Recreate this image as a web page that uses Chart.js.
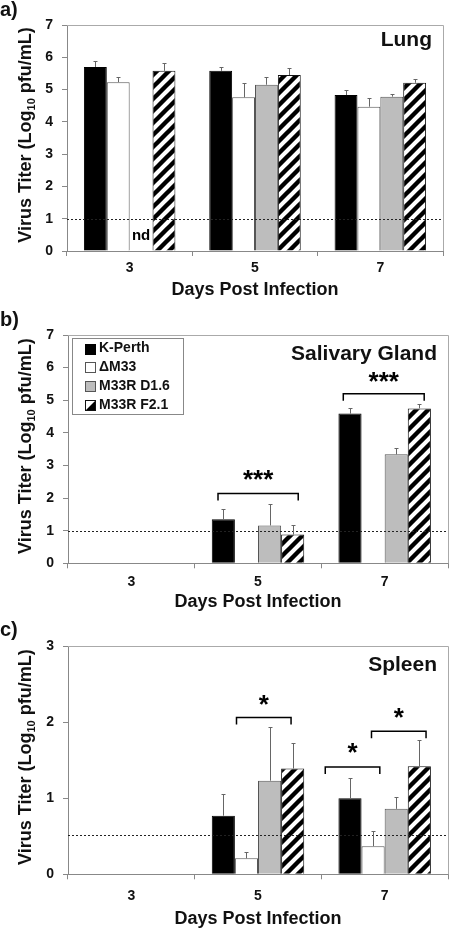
<!DOCTYPE html>
<html>
<head>
<meta charset="utf-8">
<script src="https://cdn.jsdelivr.net/npm/chart.js@4/dist/chart.umd.min.js"></script>
<style>
body { margin: 0; background: #fff; }
canvas { display: block; }
</style>
</head>
<body>
<canvas id="lung" width="450" height="310"></canvas>
<canvas id="sg" width="450" height="310"></canvas>
<canvas id="spleen" width="450" height="310"></canvas>
<script>
// days post infection
var days = ['3', '5', '7'];
var seriesNames = ['K-Perth', '\u0394M33', 'M33R D1.6', 'M33R F2.1'];

// a) lung (log10 pfu/mL), error = upper SD
var lungKPerth = [5.70, 5.58, 4.83];
var lungKPerthErr = [0.17, 0.13, 0.15];
var lungDM33 = [5.23, 4.76, 4.47];
var lungDM33Err = [0.16, 0.43, 0.26];
var lungD16 = [null, 5.15, 4.78];
var lungD16Err = [0, 0.25, 0.08];
var lungF21 = [5.58, 5.45, 5.21];
var lungF21Err = [0.23, 0.21, 0.11];
var lungLimit = 1;
var lungTicks = [0, 1, 2, 3, 4, 5, 6, 7];

// b) salivary gland
var sgKPerth = [null, 1.35, 4.59];
var sgKPerthErr = [0, 0.31, 0.16];
var sgDM33 = [null, null, null];
var sgDM33Err = [0, 0, 0];
var sgD16 = [null, 1.16, 3.34];
var sgD16Err = [0, 0.66, 0.21];
var sgF21 = [null, 0.88, 4.75];
var sgF21Err = [0, 0.29, 0.13];
var sgLimit = 1;
var sgTicks = [0, 1, 2, 3, 4, 5, 6, 7];

// c) spleen
var spKPerth = [null, 0.77, 1.00];
var spKPerthErr = [0, 0.28, 0.26];
var spDM33 = [null, 0.21, 0.37];
var spDM33Err = [0, 0.08, 0.20];
var spD16 = [null, 1.23, 0.86];
var spD16Err = [0, 0.70, 0.15];
var spF21 = [null, 1.39, 1.42];
var spF21Err = [0, 0.34, 0.34];
var spLimit = 0.52;
var spTicks = [0, 1, 2, 3];

// significance brackets: day index, bar slots spanned, height, stars
var sgSignif = [
	{day: 1, from: -0.23, to: 3.24, y: 2.14, stars: '***', starY: 2.76},
	{day: 2, from: -0.29, to: 3.21, y: 5.20, stars: '***', starY: 5.77}
];
var spSignif = [
	{day: 1, from: 0.57, to: 2.93, y: 2.06, stars: '*', starY: 2.32},
	{day: 2, from: -1.07, to: 1.29, y: 1.41, stars: '*', starY: 1.69},
	{day: 2, from: 0.93, to: 3.29, y: 1.88, stars: '*', starY: 2.15}
];

var FONT = '"Liberation Sans", Arial, sans-serif';
Chart.defaults.font.family = FONT;
Chart.defaults.color = '#111';

function makeHatch() {
	var c = document.createElement('canvas');
	c.width = 12; c.height = 12;
	var g = c.getContext('2d');
	g.fillStyle = '#fff';
	g.fillRect(0, 0, 12, 12);
	g.strokeStyle = '#000';
	g.lineWidth = 4.4;
	g.beginPath();
	g.moveTo(-6, 6); g.lineTo(6, -6);
	g.moveTo(0, 12); g.lineTo(12, 0);
	g.moveTo(6, 18); g.lineTo(18, 6);
	g.stroke();
	return g.createPattern(c, 'repeat');
}
var hatch = makeHatch();

var fills = ['#000', '#fff', '#bdbdbd', hatch];
var borders = ['#000', '#555', '#555', '#111'];

// bar slot centre, through the x scale
function slotX(chart, day, slot) {
	var xs = chart.scales.x;
	var w = (xs.right - xs.left) / days.length * 0.73 / 4;
	return xs.getPixelForValue(day) + (slot - 1.5) * w;
}

var extras = {
	id: 'extras',
	afterDatasetsDraw: function(chart, args, o) {
		var ctx = chart.ctx, ys = chart.scales.y, ca = chart.chartArea;
		ctx.save();
		// detection limit
		ctx.strokeStyle = '#222';
		ctx.lineWidth = 1;
		ctx.setLineDash([2, 2]);
		ctx.beginPath();
		var ly = Math.round(ys.getPixelForValue(o.limit)) + 0.5;
		ctx.moveTo(ca.left, ly); ctx.lineTo(ca.right, ly);
		ctx.stroke();
		ctx.setLineDash([]);
		// error bars
		ctx.strokeStyle = '#666';
		chart.data.datasets.forEach(function(ds, k) {
			for (var i = 0; i < ds.data.length; i++) {
				var v = ds.data[i];
				if (v == null || !ds.errors[i]) continue;
				var x = Math.round(slotX(chart, i, k)) + 0.5;
				var y1 = ys.getPixelForValue(v);
				var y2 = Math.round(ys.getPixelForValue(v + ds.errors[i])) + 0.5;
				ctx.beginPath();
				ctx.moveTo(x, y1); ctx.lineTo(x, y2);
				ctx.moveTo(x - 2, y2); ctx.lineTo(x + 2, y2);
				ctx.stroke();
			}
		});
		// brackets
		ctx.strokeStyle = '#000';
		ctx.lineWidth = 1.5;
		ctx.fillStyle = '#000';
		ctx.font = 'bold 26px ' + FONT;
		ctx.textAlign = 'center';
		ctx.textBaseline = 'alphabetic';
		(o.brackets || []).forEach(function(b) {
			var x1 = slotX(chart, b.day, b.from), x2 = slotX(chart, b.day, b.to);
			var y = ys.getPixelForValue(b.y);
			ctx.beginPath();
			ctx.moveTo(x1, y + 7); ctx.lineTo(x1, y); ctx.lineTo(x2, y); ctx.lineTo(x2, y + 7);
			ctx.stroke();
			ctx.fillText(b.stars, (x1 + x2) / 2, ys.getPixelForValue(b.starY) + 15);
		});
		if (o.nd) {
			ctx.font = 'bold 15px ' + FONT;
			ctx.fillText('nd', slotX(chart, 0, 2), ys.getPixelForValue(0.33));
		}
		ctx.restore();
	},
	afterDraw: function(chart, args, o) {
		var ctx = chart.ctx, ca = chart.chartArea;
		ctx.save();
		// frame top / right
		ctx.strokeStyle = '#aaa';
		ctx.lineWidth = 1;
		ctx.beginPath();
		ctx.moveTo(ca.left, Math.round(ca.top) + 0.5);
		ctx.lineTo(Math.round(ca.right) + 0.5, Math.round(ca.top) + 0.5);
		ctx.lineTo(Math.round(ca.right) + 0.5, ca.bottom);
		ctx.stroke();
		ctx.fillStyle = '#111';
		ctx.textBaseline = 'alphabetic';
		// panel letter
		ctx.font = 'bold 20px ' + FONT;
		ctx.textAlign = 'left';
		ctx.fillText(o.panel, 0, 16);
		// organ title
		ctx.font = 'bold 21px ' + FONT;
		ctx.textAlign = 'right';
		ctx.fillText(o.title, ca.right - 11, o.titleBase);
		// y title with subscript
		var p1 = 'Virus Titer (Log', sub = '10', p2 = ' pfu/mL)';
		ctx.font = 'bold 18px ' + FONT;
		var w1 = ctx.measureText(p1).width, w3 = ctx.measureText(p2).width;
		ctx.font = 'bold 11px ' + FONT;
		var w2 = ctx.measureText(sub).width;
		ctx.translate(31, (ca.top + ca.bottom) / 2 - 3);
		ctx.rotate(-Math.PI / 2);
		ctx.textAlign = 'left';
		var sx = -(w1 + w2 + w3) / 2;
		ctx.font = 'bold 18px ' + FONT;
		ctx.fillText(p1, sx, 0);
		ctx.font = 'bold 11px ' + FONT;
		ctx.fillText(sub, sx + w1, 4);
		ctx.font = 'bold 18px ' + FONT;
		ctx.fillText(p2, sx + w1 + w2, 0);
		ctx.restore();
		// legend
		if (o.legend) {
			ctx.save();
			ctx.strokeStyle = '#888';
			ctx.lineWidth = 1;
			ctx.strokeRect(72.5, 28.5, 111, 76);
			ctx.font = 'bold 14px ' + FONT;
			ctx.textBaseline = 'middle';
			ctx.textAlign = 'left';
			for (var i = 0; i < seriesNames.length; i++) {
				var cy = 38.5 + 18.8 * i;
				var bx = 85.5, by = Math.round(cy - 5) + 0.5;
				ctx.fillStyle = i == 3 ? '#fff' : fills[i];
				ctx.fillRect(bx, by, 10, 10);
				if (i == 3) {
					ctx.fillStyle = '#000';
					ctx.beginPath();
					ctx.moveTo(bx + 10, by); ctx.lineTo(bx + 10, by + 10); ctx.lineTo(bx, by + 10);
					ctx.fill();
				}
				ctx.strokeStyle = borders[i];
				ctx.strokeRect(bx, by, 10, 10);
				ctx.fillStyle = '#111';
				ctx.fillText(seriesNames[i], 99, cy);
			}
			ctx.restore();
		}
	}
};

function makeChart(id, series, errs, ticks, opt) {
	var datasets = [];
	for (var k = 0; k < 4; k++) {
		datasets.push({
			label: seriesNames[k],
			data: series[k],
			errors: errs[k],
			backgroundColor: fills[k],
			borderColor: borders[k],
			borderWidth: 1,
			categoryPercentage: 0.73,
			barPercentage: 1.0
		});
	}
	return new Chart(document.getElementById(id), {
		type: 'bar',
		data: {labels: days, datasets: datasets},
		plugins: [extras],
		options: {
			responsive: false,
			animation: false,
			devicePixelRatio: 1,
			layout: {padding: {left: 40, right: opt.right, top: opt.top, bottom: 0}},
			plugins: {
				legend: {display: false},
				tooltip: {enabled: false},
				extras: opt.extras
			},
			scales: {
				x: {
					grid: {drawOnChartArea: false, offset: true, tickLength: 5, color: '#888'},
					border: {color: '#888'},
					ticks: {font: {size: 14, weight: 'bold'}, color: '#111', padding: opt.tickPad},
					title: {display: true, text: 'Days Post Infection', color: '#111',
						font: {size: 18, weight: 'bold'}, padding: {top: 0, bottom: opt.titlePad}},
					afterFit: function(s) { s.height = opt.xHeight; }
				},
				y: {
					min: ticks[0],
					max: ticks[ticks.length - 1],
					grid: {drawOnChartArea: false, tickLength: 5, color: '#888'},
					border: {color: '#888'},
					ticks: {stepSize: 1, font: {size: 14, weight: 'bold'}, color: '#111', padding: 9},
					afterFit: function(s) { s.width = opt.yWidth; }
				}
			}
		}
	});
}

makeChart('lung', [lungKPerth, lungDM33, lungD16, lungF21],
	[lungKPerthErr, lungDM33Err, lungD16Err, lungF21Err], lungTicks,
	{right: 7, top: 25, xHeight: 59, yWidth: 27, tickPad: 4, titlePad: 9,
	 extras: {panel: 'a)', title: 'Lung', titleBase: 46, limit: lungLimit, nd: true}});

makeChart('sg', [sgKPerth, sgDM33, sgD16, sgF21],
	[sgKPerthErr, sgDM33Err, sgD16Err, sgF21Err], sgTicks,
	{right: 2, top: 25, xHeight: 56.7, yWidth: 28, tickPad: 5, titlePad: 7.5,
	 extras: {panel: 'b)', title: 'Salivary Gland', titleBase: 50, limit: sgLimit, brackets: sgSignif, legend: true}});

makeChart('spleen', [spKPerth, spDM33, spD16, spF21],
	[spKPerthErr, spDM33Err, spD16Err, spF21Err], spTicks,
	{right: 2, top: 26, xHeight: 55.7, yWidth: 28, tickPad: 8, titlePad: 0,
	 extras: {panel: 'c)', title: 'Spleen', titleBase: 51, limit: spLimit, brackets: spSignif}});
</script>
</body>
</html>
